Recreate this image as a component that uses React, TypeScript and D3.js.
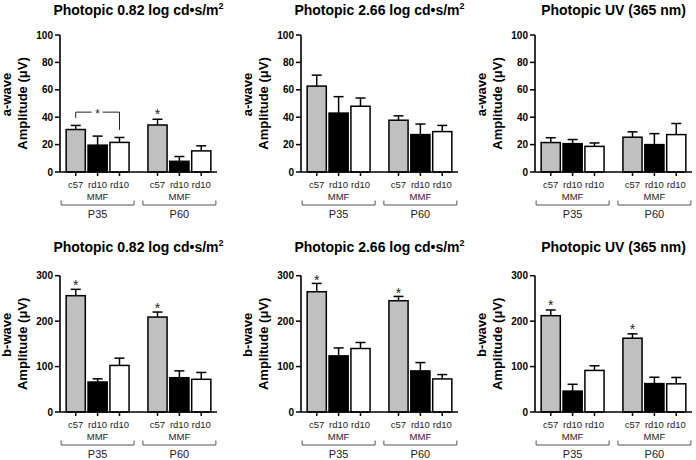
import React from "react";
import * as d3 from "d3";

// ---------- data ----------
const groups = ["P35", "P60"];
const conditions = ["c57", "rd10 MMF", "rd10"];
const conditionTickLabels = ["c57", "rd10", "rd10"];
const conditionSubLabels = ["", "MMF", ""];

const aWaveTicks = [0, 20, 40, 60, 80, 100];
const bWaveTicks = [0, 100, 200, 300];

// order: P35 c57, P35 rd10 MMF, P35 rd10, P60 c57, P60 rd10 MMF, P60 rd10
const aWave082Mean = [31, 19.6, 21.6, 34.3, 7.8, 15.4];
const aWave082Sem = [3, 6.6, 3.6, 4.2, 3.5, 3.7];
const aWave266Mean = [62.7, 43, 48, 37.8, 27.3, 29.5];
const aWave266Sem = [8, 12, 6, 3.2, 7.7, 4.5];
const aWaveUVMean = [21.5, 20.7, 18.7, 25.4, 20, 27.3];
const aWaveUVSem = [3.5, 3, 2.5, 3.9, 8, 8.1];

const bWave082Mean = [256, 66, 102.5, 209, 75.5, 72];
const bWave082Sem = [14, 7, 16, 11, 15, 15];
const bWave266Mean = [264.7, 123.5, 139.7, 244.9, 90.4, 72.8];
const bWave266Sem = [18.3, 17.5, 13.3, 9.5, 18.4, 9.6];
const bWaveUVMean = [212, 46, 91.5, 162.4, 62.5, 62];
const bWaveUVSem = [12.5, 15, 10.2, 9.6, 14, 14];

// significance markers: bar index + value of asterisk centre
const aWave082Stars = [{ bar: 3, value: 44 }];
const aWave082Bracket = [{ from: 0, to: 2, value: 43.7, leftEnd: 39.3, rightEnd: 30.7 }];
const bWave082Stars = [{ bar: 0, value: 284 }, { bar: 3, value: 234 }];
const bWave266Stars = [{ bar: 0, value: 296 }, { bar: 3, value: 267 }];
const bWaveUVStars = [{ bar: 0, value: 240 }, { bar: 3, value: 186 }];

const titles = ["Photopic 0.82 log cd•s/m", "Photopic 2.66 log cd•s/m", "Photopic UV (365 nm)"];
const titleSups = ["2", "2", ""];

// ---------- styles / layout ----------
const FONT = "'Liberation Sans', Arial, Helvetica, sans-serif";
const fills = ["#c0c0c0", "#000000", "#ffffff"];
const panelX = [60, 301, 535];
const PLOT_W = 157;
const rows = [
  { yTop: 35, yBottom: 172, max: 100, ticks: aWaveTicks, wave: "a-wave", titleY: 15 },
  { yTop: 275.7, yBottom: 412, max: 300, ticks: bWaveTicks, wave: "b-wave", titleY: 251.5 },
];

type Star = { bar: number; value: number };
type Bracket = { from: number; to: number; value: number; leftEnd: number; rightEnd: number };

function Panel(props: {
  x0: number;
  row: typeof rows[number];
  title: string;
  sup: string;
  means: number[];
  sems: number[];
  stars: Star[];
  brackets: Bracket[];
}) {
  const { x0, row, title, sup, means, sems, stars, brackets } = props;
  const y = d3.scaleLinear().domain([0, row.max]).range([row.yBottom, row.yTop]);
  const outer = d3
    .scaleBand<string>()
    .domain(groups)
    .range([x0, x0 + PLOT_W])
    .paddingInner(0.22)
    .paddingOuter(0.07);
  const inner = d3
    .scaleBand<string>()
    .domain(conditions)
    .range([0, outer.bandwidth()])
    .paddingInner(0.125)
    .paddingOuter(0.02);
  const bw = inner.bandwidth();
  const bars = groups.flatMap((g, gi) =>
    conditions.map((c, ci) => {
      const i = gi * conditions.length + ci;
      const x = (outer(g) as number) + (inner(c) as number);
      return { g, c, ci, i, x, cx: x + bw / 2, mean: means[i], sem: sems[i] };
    })
  );
  const y0 = row.yBottom;
  const cx = x0 + PLOT_W / 2;
  const yMid = (row.yTop + row.yBottom) / 2;
  return (
    <g>
      <text x={cx} y={row.titleY} textAnchor="middle" fontFamily={FONT} fontWeight="bold" fontSize={14}>
        {title}
        {sup ? (
          <tspan fontSize={9} dy={-6}>
            {sup}
          </tspan>
        ) : null}
      </text>
      {/* y label */}
      <text
        transform={`translate(${x0 - 49},${yMid - 9}) rotate(-90)`}
        textAnchor="middle"
        fontFamily={FONT}
        fontWeight="bold"
        fontSize={13}
      >
        {row.wave}
      </text>
      <text
        transform={`translate(${x0 - 33},${yMid}) rotate(-90)`}
        textAnchor="middle"
        fontFamily={FONT}
        fontWeight="bold"
        fontSize={13}
      >
        Amplitude (μV)
      </text>
      {/* bars */}
      {bars.map((b) => (
        <g key={b.i}>
          <line x1={b.cx} x2={b.cx} y1={y(b.mean)} y2={y(b.mean + b.sem)} stroke="#000" strokeWidth={1.5} />
          <line x1={b.cx - 5} x2={b.cx + 5} y1={y(b.mean + b.sem)} y2={y(b.mean + b.sem)} stroke="#000" strokeWidth={1.5} />
          <rect
            x={b.x}
            y={y(b.mean)}
            width={bw}
            height={y0 - y(b.mean)}
            fill={fills[b.ci]}
            stroke="#000"
            strokeWidth={1.5}
          />
        </g>
      ))}
      {/* y axis */}
      <line x1={x0} x2={x0} y1={row.yTop} y2={y0} stroke="#000" strokeWidth={1.6} />
      {row.ticks.map((t) => (
        <g key={t}>
          <line x1={x0 - 5} x2={x0} y1={y(t)} y2={y(t)} stroke="#000" strokeWidth={1.5} />
          <text
            x={x0 - 7}
            y={y(t)}
            dy="0.35em"
            textAnchor="end"
            fontFamily={FONT}
            fontWeight="bold"
            fontSize={10}
          >
            {t}
          </text>
        </g>
      ))}
      {/* x axis */}
      <line x1={x0} x2={x0 + PLOT_W} y1={y0} y2={y0} stroke="#000" strokeWidth={1.6} />
      {bars.map((b) => (
        <g key={"t" + b.i}>
          <line x1={b.cx} x2={b.cx} y1={y0} y2={y0 + 4} stroke="#000" strokeWidth={1.5} />
          <text x={b.cx} y={y0 + 16.3} textAnchor="middle" fontFamily={FONT} fontSize={9.5} fill="#222">
            {conditionTickLabels[b.ci]}
          </text>
          {conditionSubLabels[b.ci] ? (
            <text x={b.cx} y={y0 + 28.3} textAnchor="middle" fontFamily={FONT} fontSize={9.5} fill="#222">
              {conditionSubLabels[b.ci]}
            </text>
          ) : null}
        </g>
      ))}
      {/* group brackets */}
      {groups.map((g) => {
        const gx = (outer(g) as number) + outer.bandwidth() / 2;
        const half = 36.5;
        const by = y0 + 33;
        return (
          <g key={g}>
            <path
              d={`M${gx - half},${by - 4.5}V${by}H${gx + half}V${by - 4.5}`}
              fill="none"
              stroke="#555"
              strokeWidth={1}
            />
            <text x={gx} y={y0 + 46.3} textAnchor="middle" fontFamily={FONT} fontSize={11} fill="#222">
              {g}
            </text>
          </g>
        );
      })}
      {/* significance */}
      {brackets.map((br, k) => {
        const xa = bars[br.from].cx;
        const xb = bars[br.to].cx;
        const yy = y(br.value);
        const mid = (xa + xb) / 2;
        return (
          <g key={"b" + k}>
            <path d={`M${xa},${y(br.leftEnd)}V${yy}H${mid - 6}`} fill="none" stroke="#222" strokeWidth={1} />
            <path d={`M${mid + 5},${yy}H${xb}V${y(br.rightEnd)}`} fill="none" stroke="#222" strokeWidth={1} />
            <text x={mid} y={yy + 6} textAnchor="middle" fontFamily={FONT} fontSize={12} fill="#222">
              *
            </text>
          </g>
        );
      })}
      {stars.map((s, k) => (
        <text
          key={"s" + k}
          x={bars[s.bar].cx}
          y={y(s.value) + 7}
          textAnchor="middle"
          fontFamily={FONT}
          fontSize={14}
          fill="#222"
        >
          *
        </text>
      ))}
    </g>
  );
}

export default function App() {
  const aMeans = [aWave082Mean, aWave266Mean, aWaveUVMean];
  const aSems = [aWave082Sem, aWave266Sem, aWaveUVSem];
  const bMeans = [bWave082Mean, bWave266Mean, bWaveUVMean];
  const bSems = [bWave082Sem, bWave266Sem, bWaveUVSem];
  const aStars: Star[][] = [aWave082Stars, [], []];
  const aBrackets: Bracket[][] = [aWave082Bracket, [], []];
  const bStars: Star[][] = [bWave082Stars, bWave266Stars, bWaveUVStars];
  return (
    <svg
      width={696}
      height={460}
      style={{ position: "absolute", left: 0, top: 0, background: "#fff" }}
    >
      <rect width={696} height={460} fill="#fff" />
      {panelX.map((x0, i) => (
        <Panel
          key={"a" + i}
          x0={x0}
          row={rows[0]}
          title={titles[i]}
          sup={titleSups[i]}
          means={aMeans[i]}
          sems={aSems[i]}
          stars={aStars[i]}
          brackets={aBrackets[i]}
        />
      ))}
      {panelX.map((x0, i) => (
        <Panel
          key={"b" + i}
          x0={x0}
          row={rows[1]}
          title={titles[i]}
          sup={titleSups[i]}
          means={bMeans[i]}
          sems={bSems[i]}
          stars={bStars[i]}
          brackets={[]}
        />
      ))}
    </svg>
  );
}
